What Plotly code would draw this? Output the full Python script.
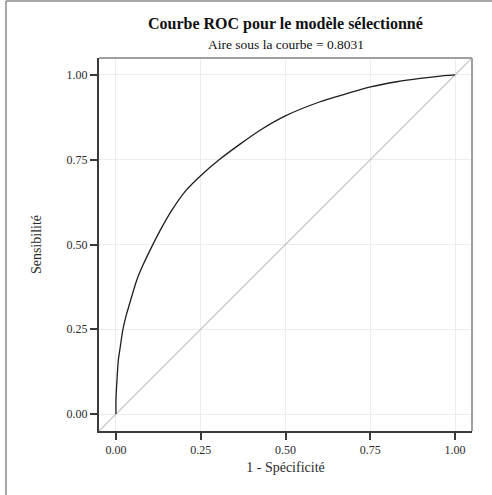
import plotly.graph_objects as go

# ROC curve values
fpr = [0.0, 0.0, 0.003, 0.007, 0.013, 0.020, 0.030, 0.043, 0.061, 0.080, 0.100,
       0.130, 0.164, 0.206, 0.253, 0.307, 0.366, 0.425, 0.501, 0.602, 0.690,
       0.751, 0.828, 0.897, 0.950, 1.0]
tpr = [0.0, 0.040, 0.100, 0.159, 0.200, 0.247, 0.290, 0.335, 0.394, 0.440, 0.482,
       0.541, 0.600, 0.659, 0.706, 0.752, 0.796, 0.837, 0.880, 0.921, 0.948,
       0.965, 0.980, 0.990, 0.996, 1.0]
tick_vals = [0.0, 0.25, 0.5, 0.75, 1.0]
tick_text = ["0.00", "0.25", "0.50", "0.75", "1.00"]
ax_range = [-0.05, 1.05]

title_text = "Courbe ROC pour le modèle sélectionné"
subtitle_text = "Aire sous la courbe = 0.8031"
x_title = "1 - Spécificité"
y_title = "Sensibilité"

FONT = "Liberation Serif"
DARK = "#2b2b2b"

fig = go.Figure()
fig.add_trace(go.Scatter(x=ax_range, y=ax_range, mode="lines",
                         line=dict(color="#c2c2c2", width=1.2), hoverinfo="skip",
                         showlegend=False))
fig.add_trace(go.Scatter(x=fpr, y=tpr, mode="lines",
                         line=dict(color="#1e1e1e", width=1.3, shape="spline", smoothing=0.6),
                         showlegend=False))

axis_common = dict(range=ax_range, tickvals=tick_vals, ticktext=tick_text,
                   showgrid=True, gridcolor="#ececec", gridwidth=1,
                   zeroline=False, showline=True, linecolor="#3a3a3a", linewidth=2,
                   ticks="outside", ticklen=7, tickwidth=1.5, tickcolor="#3a3a3a",
                   tickfont=dict(family=FONT, size=12, color=DARK))

fig.update_xaxes(**axis_common, title=dict(text=x_title, font=dict(family=FONT, size=14, color=DARK), standoff=6))
fig.update_yaxes(**axis_common, title=dict(text=y_title, font=dict(family=FONT, size=14, color=DARK), standoff=22))

# top and right frame (gray)
fig.add_shape(type="line", xref="paper", yref="paper", x0=0, x1=1, y0=1, y1=1,
              line=dict(color="#a0a0a0", width=2), layer="above")
fig.add_shape(type="line", xref="paper", yref="paper", x0=1, x1=1, y0=0, y1=1,
              line=dict(color="#a0a0a0", width=2), layer="above")
# outer page border (top and left)
fig.add_shape(type="line", xref="paper", yref="paper", x0=-0.2493, x1=1.2, y0=1.1528, y1=1.1528,
              line=dict(color="#8a8a8a", width=1.5))
fig.add_shape(type="line", xref="paper", yref="paper", x0=-0.2493, x1=-0.2493, y0=-0.2, y1=1.1528,
              line=dict(color="#8a8a8a", width=1.5))

fig.add_annotation(text="<b>" + title_text + "</b>", xref="paper", yref="paper",
                   x=0.5, y=1.091, showarrow=False, xanchor="center", yanchor="middle",
                   font=dict(family=FONT, size=16, color="#111"))
fig.add_annotation(text=subtitle_text, xref="paper", yref="paper",
                   x=0.5, y=1.0375, showarrow=False, xanchor="center", yanchor="middle",
                   font=dict(family=FONT, size=13.5, color="#111"))

fig.update_layout(width=492, height=495,
                  margin=dict(l=99, r=20, t=58, b=64),
                  paper_bgcolor="white", plot_bgcolor="white")

fig.write_html("out.html", config={"displayModeBar": False},
               post_script="document.body.style.margin='0px';document.body.style.overflow='hidden';")
